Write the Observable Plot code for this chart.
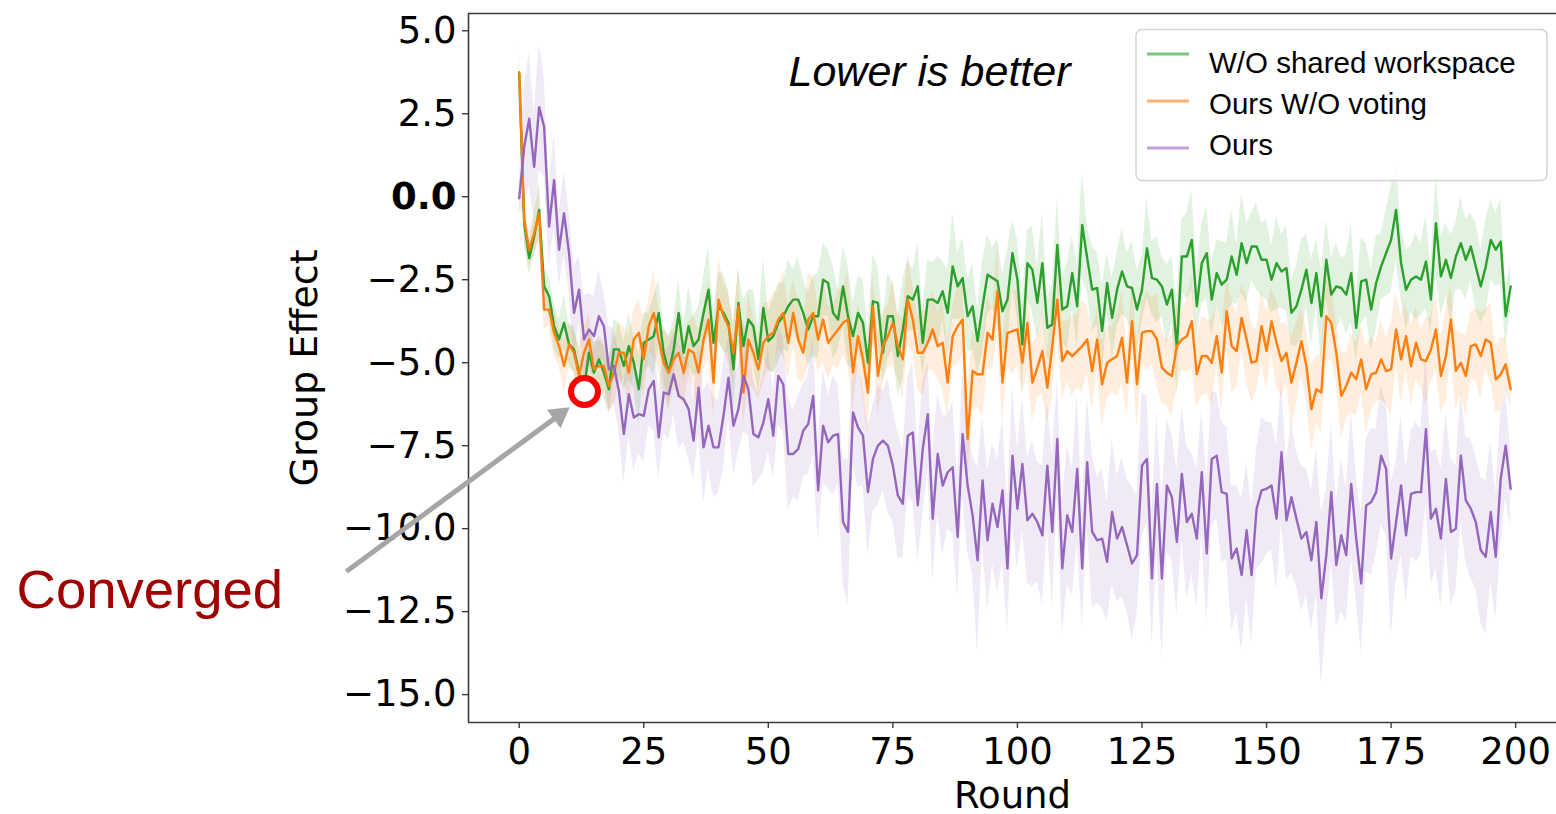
<!DOCTYPE html>
<html>
<head>
<meta charset="utf-8">
<script src="https://cdn.jsdelivr.net/npm/d3@7"></script>
<script src="https://cdn.jsdelivr.net/npm/@observablehq/plot@0.6"></script>
<style>
  html, body { margin: 0; padding: 0; background: #fff; overflow: hidden; }
  #chart { width: 1556px; height: 814px; }
</style>
</head>
<body>
<div id="chart"></div>
<script>
// ---------- data ----------
const seriesNames = ["W/O shared workspace", "Ours W/O voting", "Ours"];
const seriesColors = ["#2ca02c", "#ff7f0e", "#9467bd"];

const greenMean = [
  3.7,-0.8,-1.85,-1.2,-0.4,-2.7,-3.0,-3.9,-4.3,-3.8,
  -4.45,-4.6,-5.3,-5.8,-4.7,-5.3,-4.9,-5.3,-5.8,-4.6,
  -4.6,-5.1,-4.5,-5.0,-5.8,-4.4,-4.3,-4.2,-3.5,-4.7,
  -5.3,-4.6,-3.5,-4.7,-3.9,-4.5,-4.3,-3.5,-2.8,-4.4,
  -3.3,-3.5,-3.8,-5.2,-3.2,-4.5,-3.7,-3.9,-4.9,-3.35,
  -4.35,-4.2,-3.8,-3.6,-3.3,-3.1,-3.1,-3.5,-4.0,-3.6,
  -3.6,-2.5,-2.6,-3.5,-3.7,-2.7,-3.6,-4.2,-3.5,-3.8,
  -5.0,-3.15,-3.2,-4.7,-3.6,-3.6,-4.8,-4.0,-3.0,-3.1,
  -2.7,-4.4,-3.1,-3.1,-3.2,-2.85,-3.5,-2.1,-2.7,-2.45,
  -3.6,-3.3,-4.35,-3.3,-2.35,-2.45,-2.55,-3.45,-3.1,-1.7,
  -2.5,-4.45,-2.0,-2.2,-3.2,-2.0,-3.95,-3.85,-1.45,-3.4,
  -3.3,-2.3,-3.3,-0.85,-1.85,-2.8,-2.75,-4.05,-2.6,-3.65,
  -2.8,-2.25,-2.7,-2.75,-3.4,-2.8,-1.55,-2.45,-2.5,-2.7,
  -3.25,-2.8,-4.55,-1.8,-1.8,-1.3,-3.3,-2.0,-1.7,-3.1,
  -2.3,-2.65,-2.5,-1.8,-2.35,-1.4,-2.0,-1.5,-1.5,-1.9,
  -1.9,-2.5,-2.0,-2.25,-2.15,-3.5,-3.3,-2.8,-2.2,-3.2,
  -2.3,-3.6,-1.9,-2.95,-2.7,-2.75,-2.95,-2.3,-3.95,-2.55,
  -2.5,-3.4,-2.6,-2.1,-1.7,-1.3,-0.4,-2.0,-2.8,-2.5,
  -2.4,-2.5,-1.95,-3.1,-0.8,-2.4,-1.9,-2.45,-1.8,-1.4,
  -1.9,-1.5,-2.1,-2.7,-2.1,-1.3,-1.6,-1.35,-3.6,-2.7
];
const greenSpread = [
  0.4,0.6,0.5,0.6,0.9,0.5,0.6,0.7,0.6,0.8,
  0.6,0.7,0.8,0.6,0.7,0.9,0.6,0.8,0.7,0.9,
  0.8,0.7,1.0,0.8,1.1,0.9,0.8,1.2,1.0,0.8,
  1.1,0.9,1.0,0.8,1.2,0.9,1.0,1.1,1.3,0.9,
  1.0,1.2,0.9,1.3,1.0,1.4,0.9,1.1,1.0,1.5,
  0.9,1.1,1.2,1.0,1.4,0.9,1.3,1.0,1.1,1.2,
  1.3,1.1,1.0,1.4,0.9,1.2,1.5,1.0,1.1,1.3,
  1.0,1.4,1.1,0.9,1.3,1.0,1.2,1.5,1.1,0.9,
  1.3,1.0,1.2,1.1,1.4,0.9,1.3,1.6,1.0,1.2,
  1.1,1.3,1.0,1.4,1.2,0.9,1.3,1.1,1.5,1.0,
  1.2,1.4,1.0,1.3,1.1,1.5,0.9,1.2,1.4,1.0,
  1.3,1.1,1.2,1.6,1.0,1.3,1.1,1.4,0.9,1.2,
  1.1,1.3,1.0,1.4,1.2,1.0,1.5,1.1,1.3,0.9,
  1.2,1.0,1.4,1.1,1.3,1.5,1.0,1.2,1.4,1.1,
  1.0,1.3,1.1,1.4,0.9,1.5,1.2,1.0,1.3,1.1,
  1.2,1.0,1.4,1.1,1.3,1.0,1.2,1.5,1.1,1.3,
  1.0,1.4,1.2,1.1,1.3,0.9,1.2,1.5,1.0,1.3,
  1.1,1.2,1.4,1.0,1.3,1.6,1.5,1.1,1.2,1.0,
  1.3,1.1,1.4,1.0,1.5,1.2,1.1,1.3,1.0,1.4,
  1.2,1.0,1.3,1.1,1.4,1.2,1.1,1.3,0.9,0.7
];

const orangeMean = [
  3.75,-0.7,-1.6,-1.1,-0.5,-3.4,-3.4,-4.1,-4.5,-5.1,
  -4.45,-4.7,-5.4,-4.7,-4.3,-5.2,-5.1,-5.1,-5.7,-5.3,
  -4.7,-4.7,-5.3,-4.3,-4.1,-4.9,-3.9,-3.5,-4.3,-5.0,
  -5.3,-4.9,-4.7,-5.3,-4.6,-4.7,-5.3,-4.3,-3.7,-5.6,
  -3.1,-3.6,-3.9,-4.7,-3.3,-5.9,-4.3,-4.7,-5.2,-4.4,
  -4.2,-4.1,-3.7,-3.5,-4.4,-3.5,-4.3,-4.7,-3.7,-3.5,
  -4.3,-3.7,-4.4,-4.2,-4.0,-3.8,-3.7,-5.3,-4.2,-4.9,
  -5.9,-3.3,-5.4,-4.5,-4.2,-3.8,-4.5,-4.9,-3.1,-3.7,
  -4.7,-4.7,-4.4,-4.0,-4.5,-4.4,-5.6,-4.2,-3.9,-3.7,
  -7.3,-5.25,-5.35,-5.35,-4.1,-4.3,-2.85,-5.6,-4.1,-4.05,
  -4.0,-5.0,-3.8,-5.6,-5.15,-4.65,-5.75,-4.5,-3.1,-4.95,
  -4.65,-4.8,-4.65,-4.5,-4.3,-5.25,-4.3,-5.65,-5.0,-4.9,
  -4.8,-4.25,-5.6,-3.75,-5.65,-4.1,-4.05,-4.05,-4.3,-5.15,
  -5.3,-5.4,-4.5,-4.3,-4.2,-3.75,-5.35,-4.8,-4.8,-5.0,
  -4.2,-5.3,-3.45,-4.5,-4.65,-3.65,-4.3,-5.0,-4.95,-3.9,
  -4.65,-3.75,-4.4,-4.95,-4.7,-5.6,-5.0,-4.35,-5.1,-6.4,
  -5.8,-5.9,-3.6,-3.8,-4.7,-6.0,-5.7,-5.3,-5.5,-4.9,
  -5.8,-5.35,-5.3,-4.9,-5.25,-5.2,-4.0,-4.9,-4.2,-5.1,
  -4.4,-4.9,-4.95,-4.6,-4.0,-5.4,-4.8,-3.7,-5.25,-5.0,
  -5.4,-4.5,-4.45,-4.8,-4.3,-4.4,-5.5,-5.35,-5.05,-5.8
];
const orangeSpread = [
  0.8,0.7,0.5,0.6,0.8,0.6,0.5,0.7,0.6,0.8,
  0.7,0.6,0.9,0.7,0.8,0.6,0.9,0.7,0.8,1.0,
  0.9,0.8,1.1,0.9,1.0,1.2,0.8,1.3,0.9,1.0,
  1.1,0.9,1.2,1.0,0.8,1.1,1.3,0.9,1.2,1.0,
  1.3,1.0,1.1,0.9,1.2,1.0,1.4,1.1,0.9,1.2,
  1.0,1.2,0.9,1.3,1.1,1.0,1.2,0.9,1.4,1.1,
  1.0,1.3,1.1,0.9,1.2,1.0,1.4,1.2,0.9,1.1,
  1.3,1.0,1.2,1.1,0.9,1.3,1.0,1.2,1.4,1.0,
  1.1,1.3,0.9,1.2,1.0,1.4,1.1,0.9,1.2,1.0,
  1.5,1.2,1.0,1.3,1.1,0.9,1.4,1.2,1.0,1.3,
  1.1,1.0,1.4,1.2,0.9,1.3,1.1,1.5,1.0,1.2,
  0.9,1.2,1.1,1.4,1.0,1.2,0.9,1.3,1.1,1.0,
  1.2,1.4,1.0,1.1,1.3,0.9,1.2,1.0,1.4,1.1,
  1.0,1.2,1.3,0.9,1.1,1.4,1.0,1.2,1.1,1.3,
  0.9,1.2,1.0,1.4,1.1,1.0,1.3,1.2,0.9,1.1,
  1.2,1.0,1.3,1.1,0.9,1.4,1.2,1.0,1.1,1.3,
  1.0,1.2,1.4,1.1,0.9,1.3,1.0,1.2,1.1,1.0,
  1.3,1.1,0.9,1.2,1.0,1.4,1.1,1.3,1.0,1.2,
  1.1,0.9,1.3,1.0,1.2,1.1,1.4,1.0,1.2,0.9,
  1.2,1.0,1.1,1.3,0.9,1.2,1.0,1.1,0.8,0.6
];

const purpleMean = [
  -0.05,1.5,2.35,0.9,2.7,2.1,-0.9,0.5,-1.6,-0.5,
  -1.7,-3.5,-2.8,-4.3,-4.0,-4.2,-3.6,-3.9,-5.2,-5.1,
  -5.85,-7.15,-5.95,-6.65,-6.55,-6.6,-5.8,-5.55,-7.25,-5.9,
  -5.95,-5.35,-6.0,-6.1,-6.4,-7.35,-5.75,-7.55,-6.9,-7.55,
  -7.55,-6.6,-5.45,-6.9,-6.4,-5.4,-5.8,-7.15,-7.25,-6.8,
  -6.1,-7.2,-5.4,-5.65,-7.75,-7.75,-7.6,-7.05,-6.85,-6.0,
  -8.85,-6.9,-7.4,-7.2,-7.15,-9.8,-10.1,-6.5,-6.95,-7.2,
  -8.9,-7.9,-7.5,-7.35,-7.5,-8.1,-9.0,-9.25,-7.2,-7.1,
  -9.3,-7.6,-6.55,-9.7,-7.75,-8.7,-8.3,-8.15,-10.25,-7.15,
  -8.7,-9.6,-10.95,-8.55,-10.35,-9.25,-9.95,-8.85,-11.2,-7.8,
  -9.4,-8.05,-9.75,-9.55,-9.8,-10.2,-8.1,-10.1,-7.3,-11.2,
  -9.6,-10.1,-8.2,-11.2,-8.0,-10.1,-10.35,-10.3,-11.0,-9.5,
  -10.3,-9.95,-10.5,-11.05,-10.8,-8.1,-7.9,-11.5,-8.65,-11.5,
  -8.7,-9.05,-10.4,-8.35,-9.8,-9.55,-10.3,-8.3,-10.75,-7.9,
  -7.8,-8.9,-8.95,-10.9,-10.6,-11.4,-10.05,-11.4,-9.4,-8.85,
  -8.8,-8.7,-9.7,-7.7,-9.75,-9.05,-9.7,-10.3,-10.1,-10.95,
  -9.8,-12.1,-10.8,-8.9,-11.1,-10.2,-10.8,-8.65,-10.3,-11.65,
  -9.3,-9.2,-8.9,-7.8,-8.2,-10.9,-9.8,-8.7,-10.2,-8.95,
  -8.9,-8.9,-7.0,-9.7,-9.4,-10.3,-8.5,-10.1,-10.0,-7.8,
  -9.15,-9.4,-9.8,-10.65,-10.85,-9.5,-10.85,-8.5,-7.5,-8.8
];
const purpleSpread = [
  0.5,1.8,2.0,1.6,1.9,1.5,1.2,1.4,1.1,1.3,
  1.2,1.4,1.0,1.3,1.1,1.2,1.4,1.0,1.3,1.1,
  1.2,1.5,1.3,1.6,1.2,1.4,1.1,1.5,1.3,1.2,
  1.4,1.2,1.6,1.3,1.5,1.2,1.4,1.7,1.3,1.5,
  1.4,1.6,1.2,1.5,1.3,1.7,1.4,1.6,1.3,1.5,
  1.6,1.3,1.5,1.4,1.7,1.3,1.6,1.4,1.5,1.8,
  1.5,1.7,1.4,1.8,1.5,1.9,2.2,1.6,1.8,1.5,
  1.9,1.6,1.8,1.5,2.0,1.7,1.9,1.6,1.8,2.1,
  1.7,2.0,1.6,1.9,1.8,2.1,1.7,2.0,1.8,1.9,
  2.0,1.8,2.8,1.9,2.1,1.8,2.0,2.2,1.9,2.1,
  1.8,2.0,1.9,2.2,1.8,2.1,1.9,2.3,1.8,2.0,
  2.1,1.9,2.2,1.8,2.0,2.3,1.9,2.1,1.8,2.2,
  1.9,2.1,2.0,2.3,1.8,2.2,1.9,2.0,2.1,2.4,
  2.0,1.9,2.2,2.0,2.3,1.8,2.1,1.9,2.2,2.0,
  1.9,2.1,2.0,2.2,1.9,2.3,2.0,2.1,1.8,2.2,
  2.0,1.9,2.2,2.1,1.8,2.3,2.0,2.2,1.9,2.1,
  2.2,2.6,2.0,2.1,1.9,2.3,2.0,2.2,1.9,2.1,
  2.0,2.2,1.9,2.1,2.0,2.3,1.8,2.1,2.0,1.9,
  2.1,1.9,2.2,2.0,1.8,2.1,2.0,2.2,1.9,2.0,
  1.9,2.1,2.0,2.2,2.3,2.1,1.9,2.0,1.6,1.2
];

const xTicks = [0, 25, 50, 75, 100, 125, 150, 175, 200];
const yTicks = [-15, -12.5, -10, -7.5, -5, -2.5, 0, 2.5, 5];
const xLabel = "Round";
const yLabel = "Group Effect";
const noteText = "Lower is better";
const annotationLabel = "Converged";

// annotation anchor points (data units)
const convergedPoint = [{round: 13.1, value: -5.87}];
const arrowShaft = [{x1: -34.7, y1: -11.29, x2: 8.0, y2: -6.58}];
const arrowHead = [{round: 8.0, value: -6.58, angle: 53.7}];
const convergedText = [{round: -100.9, value: -12.38, label: annotationLabel}];
const noteAnchor = [{round: 54.05, value: 3.35, label: noteText}];

// ---------- build table ----------
const means = [greenMean, orangeMean, purpleMean];
const spreads = [greenSpread, orangeSpread, purpleSpread];
const rows = seriesNames.flatMap((name, s) =>
  means[s].map((v, i) => ({
    round: i, value: v,
    lo: v - spreads[s][i], hi: v + spreads[s][i], name
  }))
);

const xDomain = [-10.18, 208.2];
const yDomain = [-15.84, 5.52];
const fmt = d3.format(".1f");
const axisColor = "#3a3a3a";
const arrowGrey = "#a6a6a6";

const chart = Plot.plot({
  width: 1556,
  height: 814,
  marginLeft: 468,
  marginRight: 0,
  marginTop: 13,
  marginBottom: 92,
  x: {domain: xDomain},
  y: {domain: yDomain},
  color: {domain: seriesNames, range: seriesColors},
  style: {fontFamily: "'DejaVu Sans', sans-serif", fontSize: "37px", background: "white", color: "black", overflow: "visible"},
  marks: [
    Plot.areaY(rows, {x: "round", y1: "lo", y2: "hi", z: "name", fill: "name", fillOpacity: 0.14}),
    Plot.lineY(rows, {x: "round", y: "value", z: "name", stroke: "name", strokeWidth: 2.4}),
    // spines
    Plot.ruleX([xDomain[0]], {stroke: axisColor, strokeWidth: 1.6}),
    Plot.ruleY([yDomain[0]], {stroke: axisColor, strokeWidth: 1.6}),
    Plot.ruleY([yDomain[1]], {stroke: axisColor, strokeWidth: 1.6}),
    // axes
    Plot.axisX({ticks: xTicks, tickFormat: d => String(d), tickSize: 6, tickPadding: 9, label: null, fontSize: 37, stroke: axisColor, strokeWidth: 1.4}),
    Plot.axisY({ticks: yTicks.filter(t => t !== 0), tickFormat: fmt, tickSize: 6, tickPadding: 6, label: null, fontSize: 37, stroke: axisColor, strokeWidth: 1.4}),
    Plot.axisY({ticks: [0], tickFormat: fmt, tickSize: 6, tickPadding: 6, label: null, fontSize: 37, fontWeight: "bold", stroke: axisColor, strokeWidth: 1.4}),
    Plot.text([yLabel], {text: d => d, frameAnchor: "left", dx: -152, rotate: -90, textAnchor: "middle", lineAnchor: "bottom", fontSize: 38}),
    Plot.text([xLabel], {text: d => d, frameAnchor: "bottom", dy: 85, textAnchor: "middle", lineAnchor: "bottom", fontSize: 37}),
    // annotations
    Plot.text(noteAnchor, {x: "round", y: "value", text: "label", textAnchor: "start", lineAnchor: "bottom",
      fontSize: 43, fontStyle: "italic", fontFamily: "'Liberation Sans', Arial, sans-serif"}),
    Plot.link(arrowShaft, {x1: "x1", y1: "y1", x2: "x2", y2: "y2", stroke: arrowGrey, strokeWidth: 5}),
    Plot.dot(arrowHead, {x: "round", y: "value", symbol: "triangle", r: 8.5, rotate: "angle", fill: arrowGrey, stroke: "none"}),
    Plot.dot(convergedPoint, {x: "round", y: "value", r: 13.5, stroke: "#ff0000", strokeWidth: 6, fill: "white"}),
    Plot.text(convergedText, {x: "round", y: "value", text: "label", textAnchor: "start", lineAnchor: "bottom",
      fontSize: 54.5, fill: "#a00000", fontFamily: "'Liberation Sans', Arial, sans-serif"})
  ]
});

// ---------- legend (inside axes, upper right) ----------
const svg = d3.select(chart);
const lg = svg.append("g")
  .attr("font-family", "'Liberation Sans', Arial, sans-serif")
  .attr("font-size", 29.5)
  .attr("text-anchor", "start");
lg.append("rect")
  .attr("x", 1136).attr("y", 29.5).attr("width", 411).attr("height", 151)
  .attr("rx", 6).attr("fill", "white").attr("fill-opacity", 0.85)
  .attr("stroke", "#d4d4d4").attr("stroke-width", 1.5);
const legendLineY = [54, 101, 148];
const legendTextY = [73, 114, 155];
seriesNames.forEach((name, i) => {
  lg.append("line")
    .attr("x1", 1147).attr("x2", 1189)
    .attr("y1", legendLineY[i]).attr("y2", legendLineY[i])
    .attr("stroke", seriesColors[i]).attr("stroke-opacity", 0.6).attr("stroke-width", 3);
  lg.append("text")
    .attr("x", 1209).attr("y", legendTextY[i])
    .attr("text-anchor", "start")
    .attr("fill", "black")
    .text(name);
});

document.getElementById("chart").appendChild(chart);
</script>
</body>
</html>
